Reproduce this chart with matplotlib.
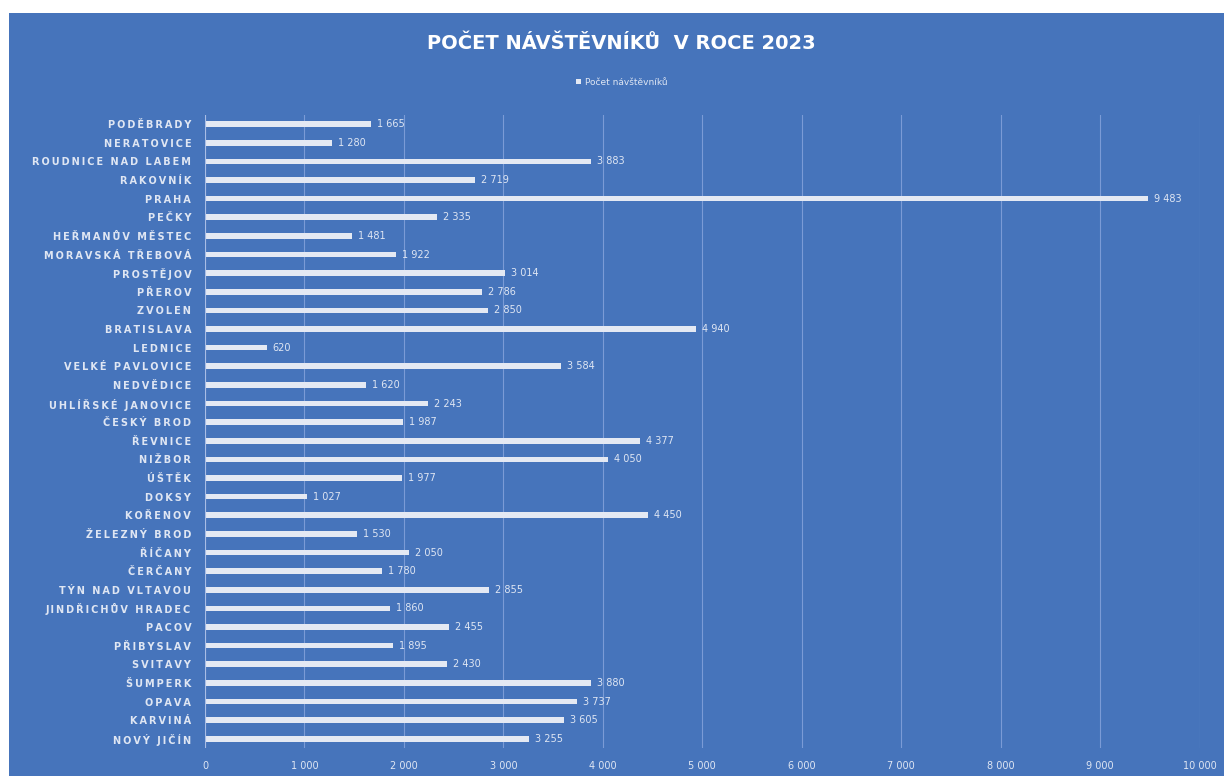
import matplotlib.pyplot as plt
from matplotlib.patches import Rectangle
from matplotlib.ticker import FuncFormatter

# data (top to bottom)
mesta = ['PODĚBRADY', 'NERATOVICE', 'ROUDNICE NAD LABEM', 'RAKOVNÍK', 'PRAHA', 'PEČKY',
         'HEŘMANŮV MĚSTEC', 'MORAVSKÁ TŘEBOVÁ', 'PROSTĚJOV', 'PŘEROV', 'ZVOLEN', 'BRATISLAVA',
         'LEDNICE', 'VELKÉ PAVLOVICE', 'NEDVĚDICE', 'UHLÍŘSKÉ JANOVICE', 'ČESKÝ BROD', 'ŘEVNICE',
         'NIŽBOR', 'ÚŠTĚK', 'DOKSY', 'KOŘENOV', 'ŽELEZNÝ BROD', 'ŘÍČANY', 'ČERČANY',
         'TÝN NAD VLTAVOU', 'JINDŘICHŮV HRADEC', 'PACOV', 'PŘIBYSLAV', 'SVITAVY', 'ŠUMPERK',
         'OPAVA', 'KARVINÁ', 'NOVÝ JIČÍN']
navstevnici = [1665, 1280, 3883, 2719, 9483, 2335, 1481, 1922, 3014, 2786, 2850, 4940,
               620, 3584, 1620, 2243, 1987, 4377, 4050, 1977, 1027, 4450, 1530, 2050, 1780,
               2855, 1860, 2455, 1895, 2430, 3880, 3737, 3605, 3255]
x_ticks = list(range(0, 10001, 1000))

bg = '#4674bb'
txt = '#dfe6f3'
bar_col = '#e4e9f3'


def cz(v):
    return f'{int(v):,}'.replace(',', ' ')


def spaced(s):
    return '\u2009'.join(s)


fig = plt.figure(figsize=(12.24, 7.76), dpi=100, facecolor='white')
# blue chart area, white strip at the top and left edge like the screenshot
fig.patches.append(Rectangle((9 / 1224, 0), 1 - 9 / 1224, 1 - 13 / 776,
                             transform=fig.transFigure, facecolor=bg, edgecolor='none',
                             zorder=-10))

ax = fig.add_axes([0.1675, 0.036, 0.8125, 0.816])
ax.set_facecolor(bg)

y = list(range(len(mesta)))
bars = ax.barh(y, navstevnici, height=0.3, color=bar_col, label='Počet návštěvníků')
for yi, v in zip(y, navstevnici):
    ax.text(v + 60, yi, cz(v), color=txt, fontsize=7, va='center', ha='left')

ax.set_ylim(len(mesta) - 0.5, -0.5)
ax.set_xlim(0, 10000)
ax.set_xticks(x_ticks)
ax.xaxis.set_major_formatter(FuncFormatter(lambda v, p: cz(v)))
ax.set_yticks(y)
ax.set_yticklabels([spaced(m) for m in mesta], fontsize=7, fontweight='bold', color=txt)
ax.tick_params(axis='x', colors=txt, labelsize=7, length=0, pad=9)
ax.tick_params(axis='y', length=0, pad=10)
ax.grid(axis='x', color='#7b9bd6', linewidth=0.8)
ax.set_axisbelow(True)
ax.axvline(0, color='#a9bde5', linewidth=0.8)
for s in ax.spines.values():
    s.set_visible(False)

fig.text(0.508, 0.944, 'POČET NÁVŠTĚVNÍKŮ  V ROCE 2023', ha='center', va='center',
         color='white', fontsize=14, fontweight='bold')
fig.legend(handles=[bars], loc='center', bbox_to_anchor=(0.508, 0.894), frameon=False,
           fontsize=6.5, labelcolor=txt, handlelength=0.6, handleheight=0.6, handletextpad=0.4)

fig.savefig('out.png', dpi=100, facecolor='white')
